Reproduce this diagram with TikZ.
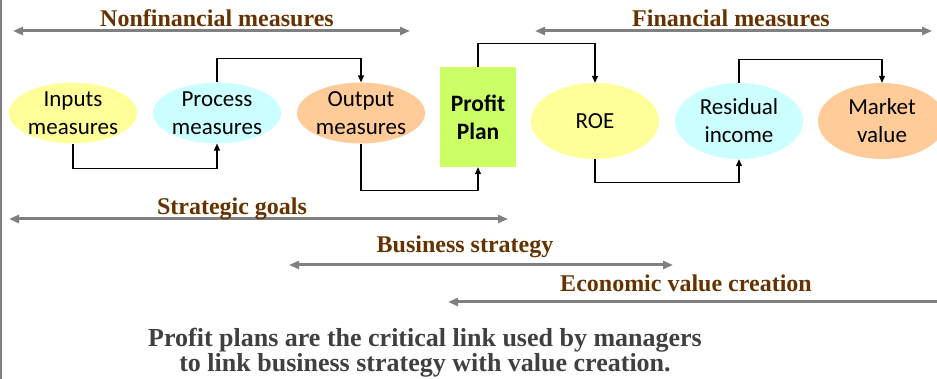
\documentclass[tikz,border=0pt]{standalone}
\usepackage{fontspec}
\setmainfont{Carlito}
\newfontfamily\headfont{Liberation Serif}
\usetikzlibrary{arrows.meta,shapes.geometric}

\definecolor{headbrown}{HTML}{663300}
\definecolor{spangray}{HTML}{808080}
\definecolor{notegray}{HTML}{404040}
\definecolor{fillyellow}{HTML}{FFFF99}
\definecolor{fillcyan}{HTML}{CCFFFF}
\definecolor{fillorange}{HTML}{FFCC99}
\definecolor{fillgreen}{HTML}{CCFF66}

\tikzset{
  oval/.style={ellipse, minimum width=128pt, minimum height=60pt, inner sep=0pt,
    align=center, font=\fontsize{23}{28}\selectfont},
  tall/.style={oval, minimum height=76pt},
  planbox/.style={rectangle, fill=fillgreen, minimum width=76pt, minimum height=100pt,
    inner sep=0pt, align=center, font=\bfseries\fontsize{23.5}{28}\selectfont},
  span/.style={draw=spangray, line width=3pt,
    {Triangle[length=10pt,width=8pt]}-{Triangle[length=10pt,width=8pt]}},
  spanlabel/.style={anchor=base, text=headbrown, inner sep=0pt,
    font=\headfont\bfseries\fontsize{24}{28}\selectfont},
  link/.style={draw=black, line width=1.2pt, -{Triangle[length=7pt,width=6pt]}},
}

\begin{document}
\begin{tikzpicture}[x=1pt, y=-1pt]
  \useasboundingbox (0,0) rectangle (937,379);
  \clip (0,0) rectangle (937,379);

  % left frame rule
  \coordinate (ruletop) at (1,0);
  \coordinate (rulebot) at (1,379);
  \draw[spangray, line width=1.6pt] (ruletop) -- (rulebot);

  % measure ovals and the profit plan
  \node[oval, fill=fillyellow] (inp) at (73,113) {Inputs\\measures};
  \node[oval, fill=fillcyan]   (proc) at (217,113) {Process\\measures};
  \node[oval, fill=fillorange] (outp) at (361,113) {Output\\measures};
  \node[planbox] (plan) at (478,117) {Profit\\Plan};
  \node[tall, fill=fillyellow] (roe) at (595,121) {ROE};
  \node[tall, fill=fillcyan]   (resid) at (739,121) {Residual\\income};
  \node[tall, fill=fillorange] (mkt) at (882,121) {Market\\value};

  % flow connectors
  \draw[link] (inp.south) -- ++(0,25) -| (proc.south);
  \draw[link] (proc.north) -- ++(0,-24) -| (outp.north);
  \draw[link] (outp.south) -- ++(0,47) -| (plan.south);
  \draw[link] (plan.north) -- ++(0,-23) -| (roe.north);
  \draw[link] (roe.south) -- ++(0,23) -| (resid.south);
  \draw[link] (resid.north) -- ++(0,-23) -| (mkt.north);

  % spans
  \coordinate (nfa) at (13,31);  \coordinate (nfb) at (410,31);
  \coordinate (fa) at (535,31);  \coordinate (fb) at (932,31);
  \coordinate (sga) at (9,219);  \coordinate (sgb) at (508,219);
  \coordinate (bsa) at (289,265); \coordinate (bsb) at (673,265);
  \coordinate (eva) at (448,302); \coordinate (evb) at (950,302);
  \draw[span] (nfa) -- (nfb);
  \draw[span] (fa) -- (fb);
  \draw[span] (sga) -- (sgb);
  \draw[span] (bsa) -- (bsb);
  \draw[span] (eva) -- (evb);

  \node[spanlabel] (nflabel) at (217,27) {Nonfinancial measures};
  \node[spanlabel] (flabel) at (731,27) {Financial measures};
  \node[spanlabel] (sglabel) at (232,215) {Strategic goals};
  \node[spanlabel] (bslabel) at (465,253) {Business strategy};
  \node[spanlabel] (evlabel) at (686,292) {Economic value creation};

  % closing note, anchored on the baseline of its last line
  \node[anchor=base, align=center, text=notegray, inner sep=0pt,
        font=\headfont\bfseries\fontsize{26}{25}\selectfont] (note) at (425,371)
    {Profit plans are the critical link used by managers\\
     to link business strategy with value creation.};
\end{tikzpicture}
\end{document}
